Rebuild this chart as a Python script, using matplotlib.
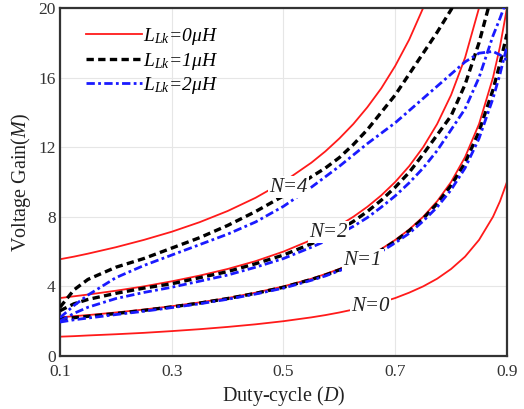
import numpy as np
import matplotlib
matplotlib.use('Agg')
import matplotlib.pyplot as plt

plt.rcParams['font.family'] = ['Liberation Serif', 'DejaVu Serif']
plt.rcParams['mathtext.fontset'] = 'custom'
plt.rcParams['mathtext.rm'] = 'Liberation Serif'
plt.rcParams['mathtext.it'] = 'Liberation Serif:italic'

nan = np.nan

# duty cycle samples
duty = [0.10, 0.125, 0.15, 0.20, 0.25, 0.30, 0.35, 0.40, 0.45, 0.50, 0.55,
        0.575, 0.60, 0.625, 0.65, 0.675, 0.70, 0.725, 0.75, 0.775, 0.80,
        0.825, 0.85, 0.875, 0.8875, 0.90]

# L_Lk = 0 uH
gain_l0_n0 = [1.11, 1.14, 1.18, 1.25, 1.33, 1.43, 1.54, 1.67, 1.82, 2.00, 2.22,
              2.35, 2.50, 2.67, 2.86, 3.08, 3.33, 3.64, 4.00, 4.44, 5.00,
              5.71, 6.67, 8.00, 8.89, 10.0]
gain_l0_n1 = [2.22, 2.29, 2.35, 2.50, 2.67, 2.86, 3.08, 3.33, 3.64, 4.00, 4.44,
              4.71, 5.00, 5.33, 5.71, 6.15, 6.67, 7.27, 8.00, 8.89, 10.0,
              11.43, 13.33, 16.0, 17.78, 20.0]
gain_l0_n2 = [3.33, 3.43, 3.53, 3.75, 4.00, 4.29, 4.62, 5.00, 5.45, 6.00, 6.67,
              7.06, 7.50, 8.00, 8.57, 9.23, 10.0, 10.91, 12.0, 13.33, 15.0,
              17.14, 20.0, 24.0, nan, nan]
gain_l0_n4 = [5.56, 5.71, 5.88, 6.25, 6.67, 7.14, 7.69, 8.33, 9.09, 10.0, 11.11,
              11.76, 12.5, 13.33, 14.29, 15.38, 16.67, 18.18, 20.0, 22.2, nan,
              nan, nan, nan, nan, nan]

# L_Lk = 1 uH
gain_l1_n1 = [2.15, 2.20, 2.28, 2.44, 2.62, 2.82, 3.04, 3.30, 3.60, 3.95, 4.40,
              4.65, 4.95, 5.27, 5.65, 6.08, 6.60, 7.20, 7.90, 8.75, 9.80,
              11.1, 12.9, 15.3, 16.8, 18.5]
gain_l1_n2 = [2.60, 3.00, 3.25, 3.60, 3.90, 4.15, 4.50, 4.85, 5.30, 5.80, 6.45,
              6.82, 7.25, 7.73, 8.30, 8.95, 9.70, 10.55, 11.6, 12.7, 13.8,
              15.6, 18.0, 21.0, nan, nan]
gain_l1_n4 = [2.80, 3.80, 4.40, 5.10, 5.60, 6.20, 6.80, 7.50, 8.30, 9.20, 10.3,
              10.8, 11.4, 12.15, 13.0, 14.0, 15.0, 16.2, 17.4, 18.6, 19.9,
              21.5, nan, nan, nan, nan]

# L_Lk = 2 uH
gain_l2_n1 = [1.95, 2.08, 2.18, 2.38, 2.57, 2.78, 3.00, 3.26, 3.56, 3.90, 4.35,
              4.60, 4.90, 5.22, 5.60, 6.00, 6.50, 7.05, 7.75, 8.55, 9.55,
              10.8, 12.5, 14.8, 16.2, 17.8]
gain_l2_n2 = [2.00, 2.45, 2.80, 3.30, 3.65, 3.95, 4.30, 4.65, 5.10, 5.60, 6.25,
              6.60, 7.00, 7.45, 7.95, 8.55, 9.20, 9.95, 10.8, 11.8, 13.0,
              14.2, 16.0, 18.4, 19.4, 20.5]
gain_l2_n4 = [2.20, 2.90, 3.50, 4.50, 5.20, 5.80, 6.40, 7.00, 7.70, 8.60, 9.70,
              10.3, 10.9, 11.55, 12.2, 12.8, 13.4, 14.1, 14.8, 15.5, 16.2,
              16.9, 17.4, 17.5, 17.3, 17.0]

legend_labels = ['L$_{Lk}$=0μH', 'L$_{Lk}$=1μH', 'L$_{Lk}$=2μH']
turns_labels = ['N=4', 'N=2', 'N=1', 'N=0']
turns_pos = [(0.509, 9.7), (0.581, 7.1), (0.642, 5.5), (0.656, 2.87)]

x_ticks = [0.1, 0.3, 0.5, 0.7, 0.9]
y_ticks = [0, 4, 8, 12, 16, 20]

fig = plt.figure(figsize=(5.24, 4.09), dpi=100)
ax = fig.add_axes([0.1145, 0.1296, 0.853, 0.851])

red = dict(color='#ff1a1a', lw=1.3, ls='-')
black = dict(color='black', lw=2.4, ls=(0, (2.2, 1.3)))
blue = dict(color='#1a1aff', lw=2.0, ls=(0, (3.0, 1.2, 1.0, 1.2)))

for g in (gain_l0_n0, gain_l0_n1, gain_l0_n2, gain_l0_n4):
    ax.plot(duty, g, zorder=2, **red)
for g in (gain_l1_n1, gain_l1_n2, gain_l1_n4):
    ax.plot(duty, g, zorder=3, **black)
for g in (gain_l2_n1, gain_l2_n2, gain_l2_n4):
    ax.plot(duty, g, zorder=4, **blue)

# white boxes behind the turn-ratio labels cut the curves
for txt, (x, y) in zip(turns_labels, turns_pos):
    ax.text(x, y, txt, fontsize=15, fontstyle='italic', color='#222222',
            ha='center', va='center', zorder=6,
            bbox=dict(facecolor='white', edgecolor='none', pad=1.0))

handles = [plt.Line2D([], [], **red), plt.Line2D([], [], **black),
           plt.Line2D([], [], **blue)]
leg = ax.legend(handles, legend_labels, loc='upper left', frameon=False,
                prop={'size': 14, 'style': 'italic'}, handlelength=2.9,
                handletextpad=0.05, labelspacing=0.18,
                bbox_to_anchor=(0.019, 0.998))
leg.set_zorder(7)

ax.set_xlim(0.1, 0.9)
ax.set_ylim(0, 20)
ax.set_xticks(x_ticks)
ax.set_yticks(y_ticks)
ax.set_xticklabels([f'{t:.1f}' for t in x_ticks])
ax.tick_params(length=0, labelsize=12.5, colors='#333333')
ax.tick_params(axis='x', pad=6)
ax.tick_params(axis='y', pad=3)
ax.grid(color='#e6e6e6', lw=0.8, zorder=0)
ax.set_axisbelow(True)

for pos in ('top', 'right', 'left', 'bottom'):
    ax.spines[pos].set_color('#333333')
    ax.spines[pos].set_linewidth(1.6)

ax.set_xlabel('Duty-cycle ($D$)', fontsize=14.5, color='#222222', labelpad=3)
ax.set_ylabel('Voltage Gain($M$)', fontsize=14.5, color='#222222', labelpad=4)

plt.savefig('out.png', dpi=100)
